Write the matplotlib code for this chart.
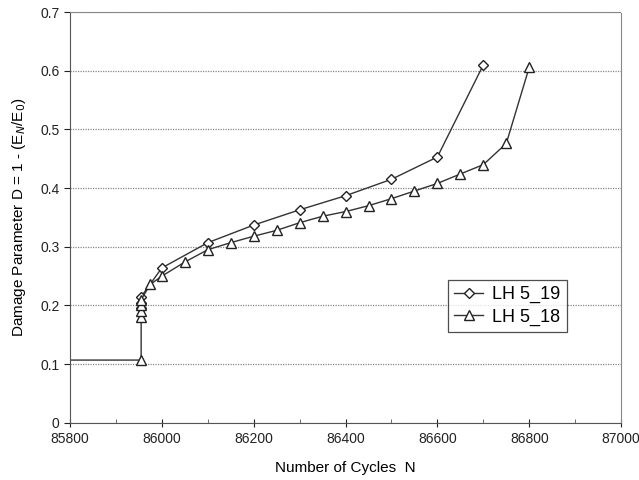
import numpy as np
import matplotlib
matplotlib.use("Agg")
import matplotlib.pyplot as plt
from matplotlib.ticker import MultipleLocator

plt.rcParams['font.family'] = ['Liberation Sans', 'DejaVu Sans']

# LH 5_19 (diamonds)
n_19 = [85955, 85955, 85955, 86000, 86100, 86200, 86300, 86400, 86500, 86600, 86700]
d_19 = [0.195, 0.205, 0.215, 0.264, 0.307, 0.337, 0.363, 0.387, 0.415, 0.453, 0.610]

# LH 5_18 (triangles), first point lies left of the visible range
n_18 = [0, 85955, 85955, 85955, 85955, 85955, 85975, 86000, 86050, 86100, 86150,
        86200, 86250, 86300, 86350, 86400, 86450, 86500, 86550, 86600, 86650,
        86700, 86750, 86800]
d_18 = [0.107, 0.107, 0.180, 0.190, 0.200, 0.210, 0.236, 0.250, 0.274, 0.295, 0.307,
        0.318, 0.328, 0.341, 0.352, 0.360, 0.370, 0.382, 0.395, 0.408, 0.424,
        0.440, 0.476, 0.606]

y_ticks = [0, 0.1, 0.2, 0.3, 0.4, 0.5, 0.6, 0.7]
y_labels = ["0", "0.1", "0.2", "0.3", "0.4", "0.5", "0.6", "0.7"]
x_ticks = [85800, 86000, 86200, 86400, 86600, 86800, 87000]

fig = plt.figure(figsize=(6.39, 4.8), dpi=100)
ax = fig.add_axes([0.1095, 0.119, 0.8625, 0.856])

ax.plot(n_19, d_19, color="#333333", lw=1.0, marker="D", ms=5.5,
        mfc="white", mec="#222222", mew=1.0, label="LH 5_19")
ax.plot(n_18, d_18, color="#333333", lw=1.0, marker="^", ms=7,
        mfc="white", mec="#222222", mew=1.0, label="LH 5_18")

ax.set_xlim(85800, 87000)
ax.set_ylim(0, 0.7)
ax.set_xticks(x_ticks)
ax.xaxis.set_minor_locator(MultipleLocator(100))
ax.set_yticks(y_ticks)
ax.set_yticklabels(y_labels)

ax.yaxis.grid(True, linestyle=(0, (1, 1)), color="#888888", lw=0.9)
ax.set_axisbelow(True)

for s in ["top", "right"]:
    ax.spines[s].set_linestyle((0, (1, 1)))
    ax.spines[s].set_color("#888888")
ax.spines["left"].set_color("#555555")
ax.spines["bottom"].set_color("#555555")

ax.tick_params(axis="x", which="major", direction="inout", length=6, labelsize=10, colors="#222222")
ax.tick_params(axis="x", which="minor", direction="in", length=3, color="#555555")
ax.tick_params(axis="y", direction="out", length=4, labelsize=10, colors="#222222")

ax.set_xlabel("Number of Cycles  N", fontsize=11, labelpad=11)
ax.set_ylabel("Damage Parameter D = 1 - (E$_N$/E$_0$)", fontsize=11, labelpad=9)

leg = ax.legend(loc="upper left", bbox_to_anchor=(0.686, 0.348), borderaxespad=0,
                fontsize=13, frameon=True, fancybox=False, edgecolor="#222222",
                handlelength=1.6, handletextpad=0.5, borderpad=0.35,
                labelspacing=0.3)
leg.get_frame().set_linewidth(0.9)

plt.savefig("out.png", dpi=100)
